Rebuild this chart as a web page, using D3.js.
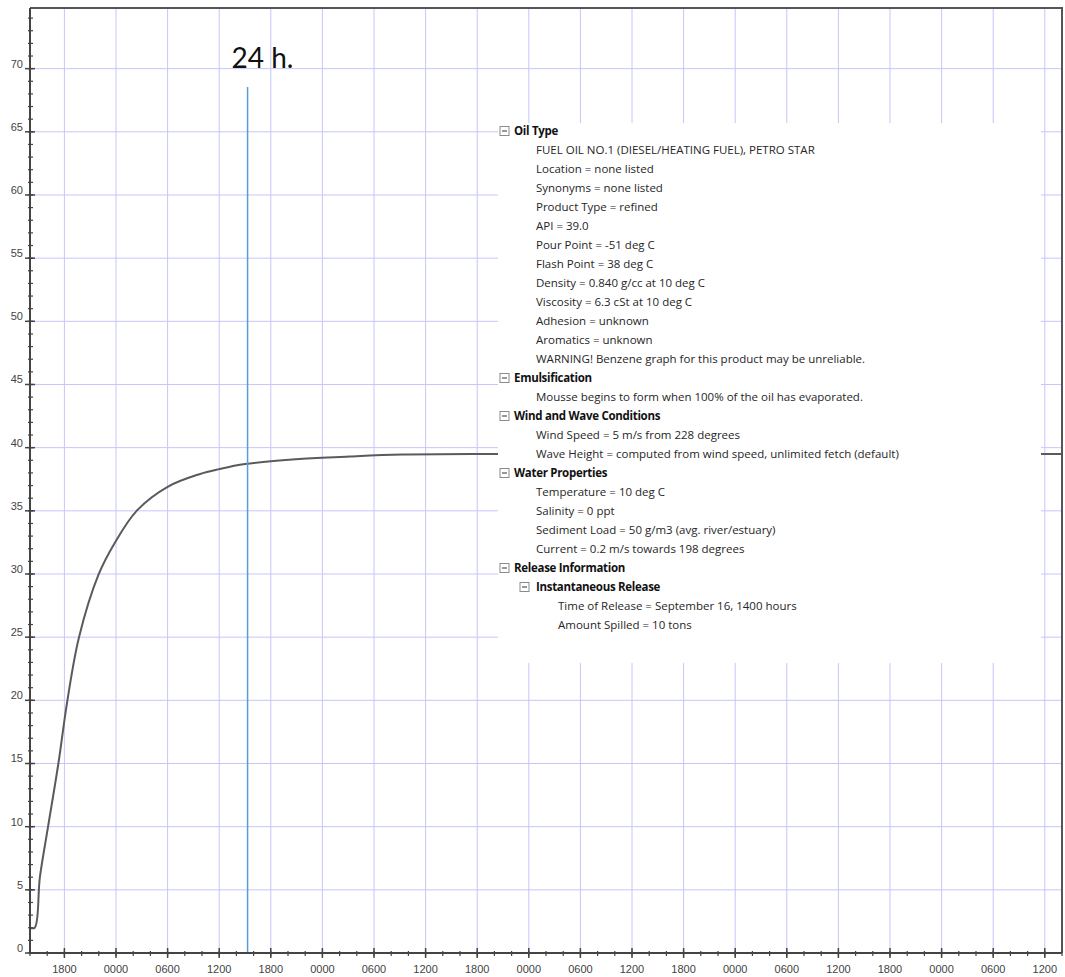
<!DOCTYPE html>
<html>
<head>
<meta charset="utf-8">
<script src="https://cdn.jsdelivr.net/npm/d3@7"></script>
<style>
  body { margin: 0; background: #fff; }
  #plot svg { display: block; }
</style>
</head>
<body>
<div id="plot"></div>
<script>
// hours after release and evaporated percent
const hours  = [0, 0.55, 1.15, 2.1, 3.3, 4.35, 5.7, 8.0, 9.8, 12.4, 16.0, 19.7, 22, 25, 31.3, 37.2, 43.3, 54, 80, 120];
const values = [2.0, 2.0, 6.0, 10, 15, 20, 25, 30, 32.4, 35, 36.9, 37.9, 38.3, 38.7, 39.1, 39.3, 39.45, 39.5, 39.5, 39.5];

const releaseYear = 2013, releaseMonth = 8, releaseDay = 16, releaseHour = 14;
const spanHours = 120;
const yMax = 74.8;
const yLabelTicks = [0, 5, 10, 15, 20, 25, 30, 35, 40, 45, 50, 55, 60, 65, 70];

const markerHour = 25.3;
const markerLabel = "24 h.";

// info tree: [depth, text, isHeader]
const infoRows = [
  [0, "Oil Type", true],
  [1, "FUEL OIL NO.1 (DIESEL/HEATING FUEL), PETRO STAR", false],
  [1, "Location = none listed", false],
  [1, "Synonyms = none listed", false],
  [1, "Product Type = refined", false],
  [1, "API = 39.0", false],
  [1, "Pour Point = -51 deg C", false],
  [1, "Flash Point = 38 deg C", false],
  [1, "Density = 0.840 g/cc at 10 deg C", false],
  [1, "Viscosity = 6.3 cSt at 10 deg C", false],
  [1, "Adhesion = unknown", false],
  [1, "Aromatics = unknown", false],
  [1, "WARNING! Benzene graph for this product may be unreliable.", false],
  [0, "Emulsification", true],
  [1, "Mousse begins to form when 100% of the oil has evaporated.", false],
  [0, "Wind and Wave Conditions", true],
  [1, "Wind Speed = 5 m/s from 228 degrees", false],
  [1, "Wave Height = computed from wind speed, unlimited fetch (default)", false],
  [0, "Water Properties", true],
  [1, "Temperature = 10 deg C", false],
  [1, "Salinity = 0 ppt", false],
  [1, "Sediment Load = 50 g/m3 (avg. river/estuary)", false],
  [1, "Current = 0.2 m/s towards 198 degrees", false],
  [0, "Release Information", true],
  [1, "Instantaneous Release", true],
  [2, "Time of Release = September 16, 1400 hours", false],
  [2, "Amount Spilled = 10 tons", false]
];

window.addEventListener("load", main);

function main(){
  const width = 1065, height = 977;
  const margin = {top: 8, right: 3, bottom: 24, left: 30};
  const iw = width - margin.left - margin.right;
  const ih = height - margin.top - margin.bottom;

  const t0 = new Date(releaseYear, releaseMonth, releaseDay, releaseHour);
  const t1 = d3.timeHour.offset(t0, spanHours);
  const atHour = h => new Date(t0.getTime() + h * 3600e3);

  const x = d3.scaleTime().domain([t0, t1]).range([0, iw]);
  const y = d3.scaleLinear().domain([0, yMax]).range([ih, 0]);

  const svg = d3.select("#plot").append("svg")
    .attr("width", width)
    .attr("height", height);

  const g = svg.append("g")
    .attr("transform", "translate(" + margin.left + "," + margin.top + ")");

  const majorX = d3.timeHour.every(6).range(t0, d3.timeHour.offset(t1, 1));
  const minorX = d3.timeHour.every(2).range(t0, d3.timeHour.offset(t1, 1));
  const minorY = d3.range(0, Math.floor(yMax) + 1);

  // grid
  g.append("g").selectAll("line")
    .data(majorX)
    .join("line")
    .attr("x1", d => x(d)).attr("x2", d => x(d))
    .attr("y1", 0).attr("y2", ih)
    .attr("stroke", "#c6c6fb").attr("stroke-width", 1);

  g.append("g").selectAll("line")
    .data(yLabelTicks.filter(d => d > 0))
    .join("line")
    .attr("x1", 0).attr("x2", iw)
    .attr("y1", d => y(d)).attr("y2", d => y(d))
    .attr("stroke", "#c6c6fb").attr("stroke-width", 1);

  // curve
  const line = d3.line()
    .x((d, i) => x(atHour(hours[i])))
    .y(d => y(d))
    .curve(d3.curveCatmullRom.alpha(0.5));

  g.append("path")
    .datum(values)
    .attr("d", line)
    .attr("fill", "none")
    .attr("stroke", "#5a5a5a")
    .attr("stroke-width", 2);

  // info panel covers grid and curve
  const panel = g.append("g").attr("transform", "translate(" + (498 - margin.left) + "," + (123 - margin.top) + ")");
  panel.append("rect")
    .attr("width", 543).attr("height", 540)
    .attr("fill", "#fff");

  const rowH = 19;
  const rows = panel.selectAll("g.row")
    .data(infoRows)
    .join("g")
    .attr("class", "row")
    .attr("transform", (d, i) => "translate(0," + (8 + i * rowH) + ")");

  rows.filter(d => d[2])
    .append("rect")
    .attr("x", d => 2 + d[0] * 20)
    .attr("y", -4.5)
    .attr("width", 9).attr("height", 9)
    .attr("fill", "#fff").attr("stroke", "#8a8a8a").attr("stroke-width", 1);
  rows.filter(d => d[2])
    .append("line")
    .attr("x1", d => 4 + d[0] * 20).attr("x2", d => 9 + d[0] * 20)
    .attr("y1", 0).attr("y2", 0)
    .attr("stroke", "#333").attr("stroke-width", 1);

  rows.append("text")
    .attr("x", d => d[2] ? 16 + d[0] * 22 : 38 + (d[0] - 1) * 22)
    .attr("y", 4)
    .attr("font-family", "'Open Sans', 'DejaVu Sans', sans-serif")
    .attr("font-size", 11.5)
    .attr("letter-spacing", d => d[2] ? -0.3 : 0)
    .attr("font-weight", d => d[2] ? "bold" : "normal")
    .attr("fill", d => d[2] ? "#111" : "#262626")
    .text(d => d[1]);

  // 24 h marker
  const mx = x(atHour(markerHour));
  g.append("line")
    .attr("x1", mx).attr("x2", mx)
    .attr("y1", 87 - margin.top).attr("y2", ih)
    .attr("stroke", "#5b9bd5").attr("stroke-width", 1.5);
  g.append("text")
    .attr("x", mx - 16).attr("y", 68 - margin.top)
    .attr("font-family", "Lato, 'Open Sans', sans-serif")
    .attr("font-size", 28)
    .attr("fill", "#111")
    .text(markerLabel);

  // frame: top and right
  g.append("path")
    .attr("d", "M0,0H" + iw + "V" + ih)
    .attr("fill", "none").attr("stroke", "#555").attr("stroke-width", 2);

  // y axis
  const yAxis = g.append("g");
  yAxis.append("line")
    .attr("x1", 0).attr("x2", 0).attr("y1", 0).attr("y2", ih)
    .attr("stroke", "#444").attr("stroke-width", 2);
  yAxis.selectAll("line.minor")
    .data(minorY)
    .join("line")
    .attr("class", "minor")
    .attr("x1", -2).attr("x2", 3)
    .attr("y1", d => y(d)).attr("y2", d => y(d))
    .attr("stroke", "#444").attr("stroke-width", 1.2);
  yAxis.selectAll("line.major")
    .data(yLabelTicks)
    .join("line")
    .attr("class", "major")
    .attr("x1", -5).attr("x2", 5)
    .attr("y1", d => y(d)).attr("y2", d => y(d))
    .attr("stroke", "#444").attr("stroke-width", 1.5);
  yAxis.selectAll("text")
    .data(yLabelTicks)
    .join("text")
    .attr("x", -7)
    .attr("y", d => y(d) - 1)
    .attr("text-anchor", "end")
    .attr("font-family", "'Liberation Sans', Arial, sans-serif")
    .attr("font-size", 11)
    .attr("fill", "#444")
    .text(d => d);

  // x axis
  const xAxis = g.append("g").attr("transform", "translate(0," + ih + ")");
  xAxis.append("line")
    .attr("x1", 0).attr("x2", iw)
    .attr("stroke", "#444").attr("stroke-width", 2);
  xAxis.selectAll("line.minor")
    .data(minorX)
    .join("line")
    .attr("class", "minor")
    .attr("x1", d => x(d)).attr("x2", d => x(d))
    .attr("y1", -2).attr("y2", 3)
    .attr("stroke", "#444").attr("stroke-width", 1.2);
  xAxis.selectAll("line.major")
    .data(majorX)
    .join("line")
    .attr("class", "major")
    .attr("x1", d => x(d)).attr("x2", d => x(d))
    .attr("y1", -5).attr("y2", 5)
    .attr("stroke", "#444").attr("stroke-width", 1.5);
  xAxis.selectAll("text")
    .data(majorX)
    .join("text")
    .attr("x", d => x(d))
    .attr("y", 20)
    .attr("text-anchor", "middle")
    .attr("font-family", "'Liberation Sans', Arial, sans-serif")
    .attr("font-size", 11)
    .attr("fill", "#444")
    .text(d3.timeFormat("%H%M"));
}
</script>
</body>
</html>
